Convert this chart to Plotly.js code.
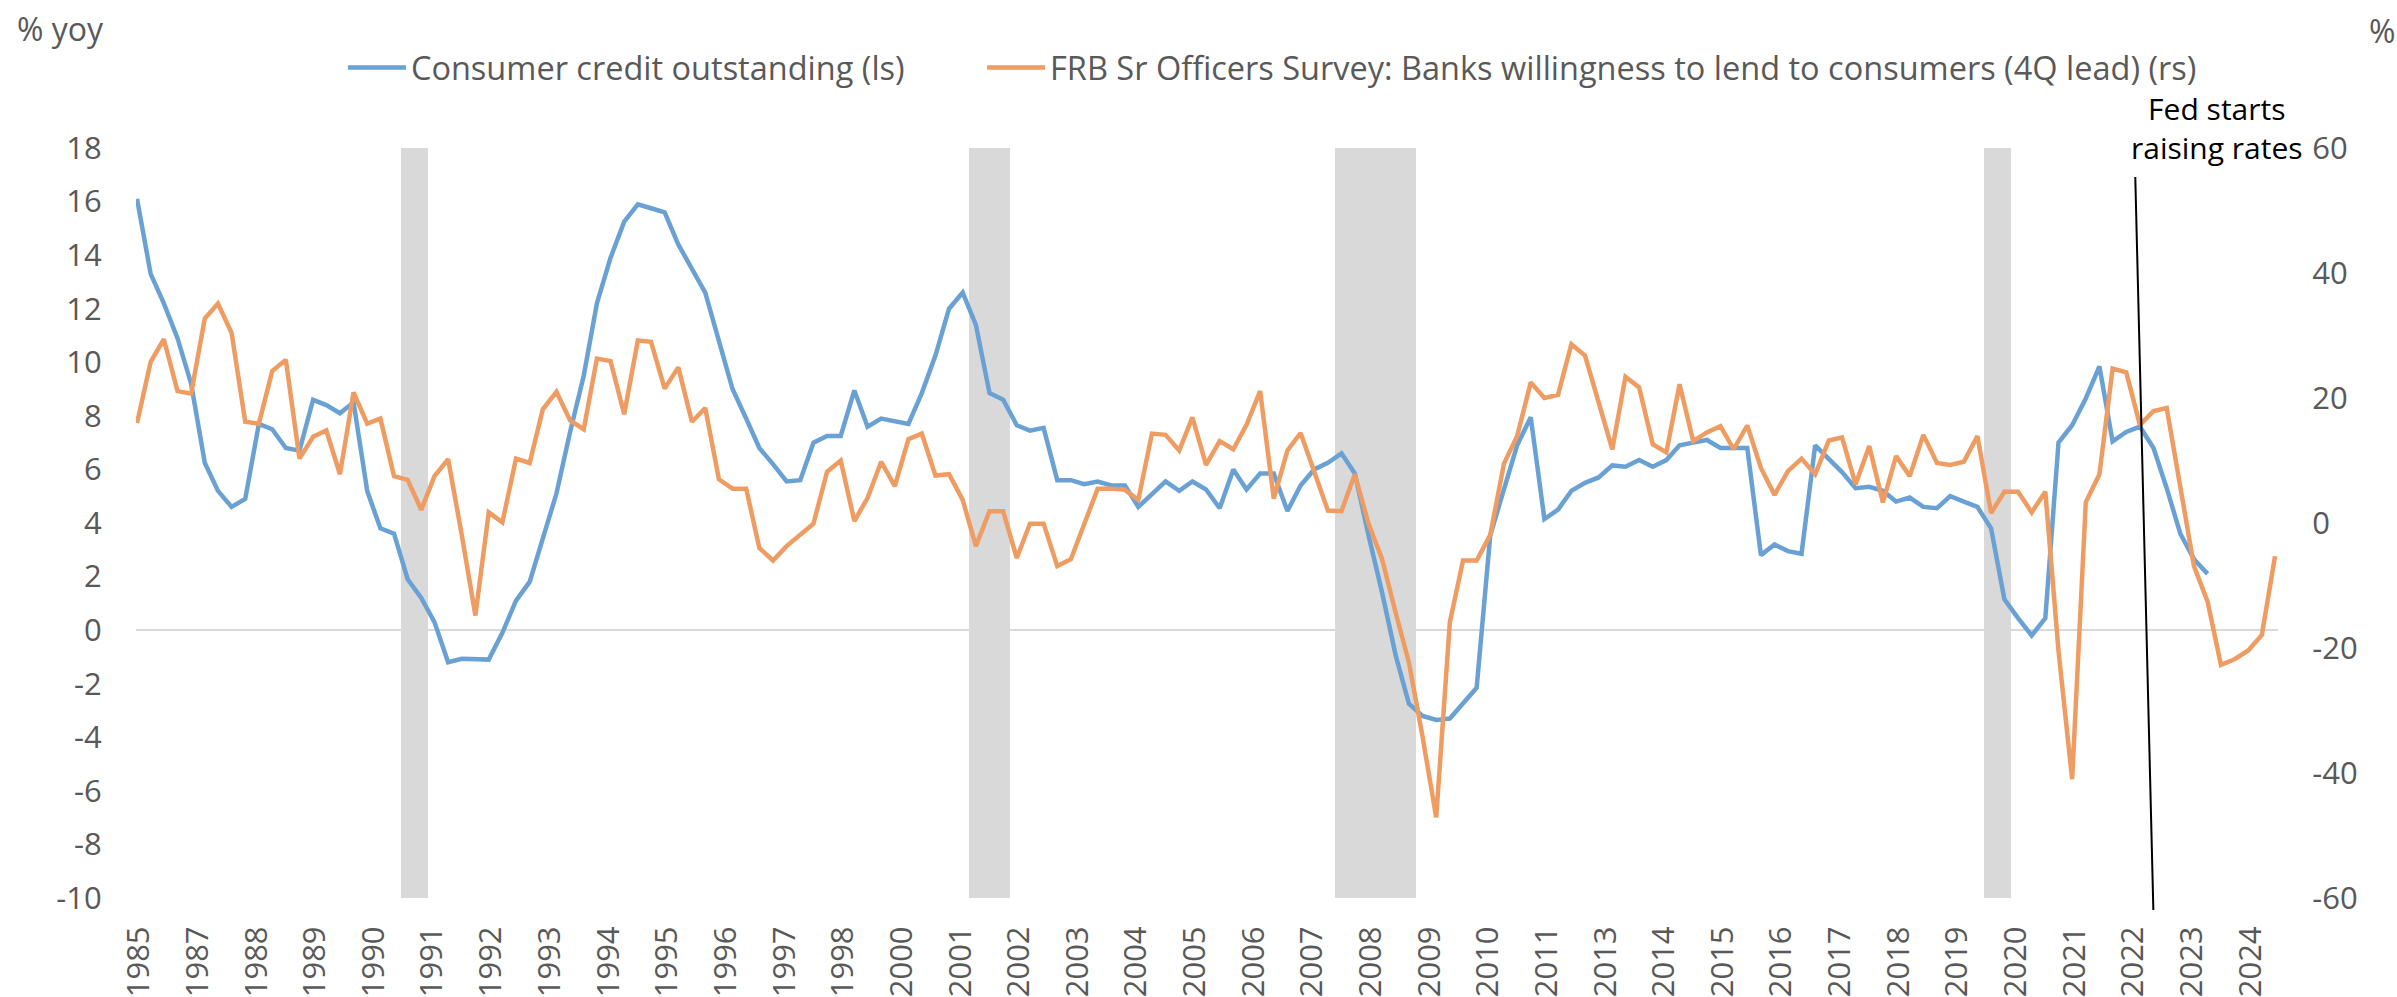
<!DOCTYPE html>
<html>
<head>
<meta charset="utf-8">
<script src="https://cdn.plot.ly/plotly-3.0.1.min.js"></script>
<style>
html,body{margin:0;padding:0;background:#ffffff;}
#chart{width:2397px;height:997px;}
</style>
</head>
<body>
<div id="chart"></div>
<script>
// ---- DATA ----
// Quarterly observations, first quarter = 1985 Q4
const firstYear = 1985;
const firstQuarter = 4;

// Consumer credit outstanding, % yoy (left scale)
const consumerCredit = [
 16.1, 13.3, 12.2, 10.9, 9.2, 6.25, 5.2, 4.6, 4.9, 7.7,
 7.5, 6.8, 6.7, 8.6, 8.4, 8.1, 8.5, 5.2, 3.8, 3.6,
 1.9, 1.2, 0.3, -1.2, -1.07, -1.1, -1.1, -0.1, 1.1, 1.8,
 3.4, 5.1, 7.4, 9.5, 12.2, 13.9, 15.25, 15.9, 15.75, 15.6,
 14.4, 13.45, 12.6, 10.8, 9.0, 7.9, 6.8, 6.2, 5.55, 5.6,
 7.0, 7.25, 7.25, 8.95, 7.6, 7.9, 7.8, 7.7, 8.85, 10.25,
 12.0, 12.6, 11.4, 8.85, 8.6, 7.65, 7.45, 7.55, 5.6, 5.6,
 5.45, 5.55, 5.4, 5.4, 4.6, 5.1, 5.55, 5.2, 5.55, 5.25,
 4.55, 6.0, 5.25, 5.85, 5.85, 4.45, 5.4, 6.0, 6.25, 6.6,
 5.85, 3.55, 1.4, -0.95, -2.75, -3.2, -3.35, -3.3, -2.75, -2.15,
 3.55, 5.3, 6.9, 7.95, 4.15, 4.5, 5.2, 5.5, 5.7, 6.15,
 6.1, 6.35, 6.1, 6.35, 6.9, 7.0, 7.1, 6.8, 6.8, 6.8,
 2.8, 3.2, 2.95, 2.85, 6.9, 6.4, 5.9, 5.3, 5.35, 5.2,
 4.8, 4.95, 4.6, 4.55, 5.0, 4.8, 4.6, 3.8, 1.15, 0.45,
 -0.2, 0.45, 7.0, 7.65, 8.65, 9.85, 7.05, 7.4, 7.6, 6.8,
 5.3, 3.6, 2.65, 2.1
];

// FRB Senior Loan Officers Survey, willingness to lend to consumers, 4Q lead (right scale)
const bankWillingness = [
 16.0, 25.8, 29.4, 21.1, 20.7, 32.7, 35.1, 30.4, 16.2, 15.9,
 24.3, 26.1, 10.3, 13.8, 14.8, 7.8, 20.9, 15.9, 16.7, 7.5,
 6.9, 2.1, 7.5, 10.2, -1.9, -14.8, 1.7, 0.1, 10.3, 9.6,
 18.2, 21.0, 16.4, 15.0, 26.3, 25.9, 17.4, 29.2, 29.0, 21.5,
 24.9, 16.2, 18.4, 7.0, 5.5, 5.5, -4.0, -6.0, -3.7, -1.9,
 -0.1, 8.2, 10.0, 0.3, 4.0, 9.8, 5.9, 13.4, 14.3, 7.6,
 7.8, 3.7, -3.7, 1.9, 1.9, -5.6, -0.1, -0.1, -6.9, -5.8,
 -0.1, 5.5, 5.5, 5.3, 3.7, 14.3, 14.1, 11.6, 16.9, 9.3,
 13.1, 11.8, 15.7, 21.1, 3.9, 11.6, 14.4, 8.2, 2.0, 1.9,
 7.8, -0.1, -5.8, -14.4, -22.3, -34.2, -47.1, -15.9, -6.0, -6.0,
 -1.9, 9.5, 13.9, 22.5, 20.0, 20.5, 28.6, 26.8, 19.0, 11.8,
 23.4, 21.7, 12.6, 11.3, 22.2, 13.1, 14.5, 15.5, 11.8, 15.6,
 8.8, 4.5, 8.3, 10.3, 7.8, 13.2, 13.7, 6.2, 12.3, 3.3,
 10.7, 7.5, 14.1, 9.6, 9.3, 9.8, 13.9, 1.6, 5.0, 5.0,
 1.7, 5.0, -20.5, -41.0, 3.3, 7.8, 24.7, 24.1, 15.7, 17.9,
 18.4, 5.3, -6.9, -12.6, -22.7, -21.8, -20.4, -17.9, -5.3
];

// NBER recession quarters (shaded)
const recessionQuarters = [
 '1990Q4','1991Q1',
 '2001Q2','2001Q3','2001Q4',
 '2008Q1','2008Q2','2008Q3','2008Q4','2009Q1','2009Q2',
 '2020Q1','2020Q2'
];

// x-axis tick labels (one every 13 months starting Dec 1985)
const xTickYears = [
 '1985','1987','1988','1989','1990','1991','1992','1993','1994','1995',
 '1996','1997','1998','2000','2001','2002','2003','2004','2005','2006',
 '2007','2008','2009','2010','2011','2013','2014','2015','2016','2017',
 '2018','2019','2020','2021','2022','2023','2024'
];
const leftTickValues = [-10,-8,-6,-4,-2,0,2,4,6,8,10,12,14,16,18];
const leftTickLabels = ['-10','-8','-6','-4','-2','0','2','4','6','8','10','12','14','16','18'];
const rightTickValues = [-60,-40,-20,0,20,40,60];
const rightTickLabels = ['-60','-40','-20','0','20','40','60'];

const seriesNames = [
 'Consumer credit outstanding (ls)',
 'FRB Sr Officers Survey: Banks willingness to lend to consumers (4Q lead) (rs)'
];
const fedLabel = 'Fed starts<br>raising rates';

// ---- HELPERS ----
function quarterMid(y, q) {
  const m = (q - 1) * 3 + 2;
  return y + '-' + String(m).padStart(2, '0') + '-15';
}
const xDates = [];
{
  let y = firstYear, q = firstQuarter;
  for (let k = 0; k < bankWillingness.length; k++) {
    xDates.push(quarterMid(y, q));
    q++; if (q > 4) { q = 1; y++; }
  }
}
const recessionX = recessionQuarters.map(s => quarterMid(+s.slice(0,4), +s.slice(5)));
const recessionY = recessionQuarters.map(() => 1);

const xTickVals = xTickYears.map((_, k) => {
  const mi = 1985 * 12 + 11 + 13 * k;
  const yy = Math.floor(mi / 12), mm = mi % 12 + 1;
  return yy + '-' + String(mm).padStart(2, '0') + '-01';
});

const gray = '#595959';
const FONT = 'Open Sans, sans-serif';
const QUARTER_MS = 92.2 * 86400000;

const traces = [
  {
    type: 'bar', x: recessionX, y: recessionY, xaxis: 'x', yaxis: 'y',
    width: QUARTER_MS, marker: { color: '#D9D9D9', line: { width: 0 } },
    showlegend: false, hoverinfo: 'skip'
  },
  {
    type: 'scatter', mode: 'lines', name: seriesNames[0],
    x: xDates.slice(0, consumerCredit.length), y: consumerCredit,
    xaxis: 'x', yaxis: 'y2', legend: 'legend',
    line: { color: '#6AA1D4', width: 4.5, shape: 'linear' }
  },
  {
    type: 'scatter', mode: 'lines', name: seriesNames[1],
    x: xDates, y: bankWillingness,
    xaxis: 'x', yaxis: 'y3', legend: 'legend2',
    line: { color: '#EE9C62', width: 4.5, shape: 'linear' }
  }
];

const legendCommon = {
  orientation: 'h', xanchor: 'left', y: 1.1067, yanchor: 'middle',
  font: { family: FONT, size: 32.5, color: gray },
  bgcolor: 'rgba(0,0,0,0)', borderwidth: 0, itemwidth: 58
};

const layout = {
  width: 2397, height: 997,
  margin: { l: 136, r: 119, t: 148, b: 99, pad: 0 },
  paper_bgcolor: '#ffffff', plot_bgcolor: '#ffffff',
  font: { family: FONT, size: 31, color: gray },
  bargap: 0,
  showlegend: true,
  legend: Object.assign({}, legendCommon, { x: 0.0966 }),
  legend2: Object.assign({}, legendCommon, { x: 0.3950 }),
  xaxis: {
    type: 'date', range: ['1985-11-08', '2025-06-04'],
    tickmode: 'array', tickvals: xTickVals, ticktext: xTickYears,
    tickangle: -90, ticks: 'outside', ticklen: 15, tickcolor: 'rgba(0,0,0,0)',
    showgrid: false, zeroline: false, showline: false,
    tickfont: { family: FONT, size: 31, color: gray }, fixedrange: true
  },
  yaxis: { range: [0, 1], visible: false, fixedrange: true },
  yaxis2: {
    overlaying: 'y', side: 'left', range: [-10, 18],
    tickmode: 'array', tickvals: leftTickValues, ticktext: leftTickLabels,
    showgrid: false, zeroline: true, zerolinecolor: '#D9D9D9', zerolinewidth: 2,
    showline: false, ticks: 'outside', ticklen: 27, tickcolor: 'rgba(0,0,0,0)',
    tickfont: { family: FONT, size: 31, color: gray }, fixedrange: true
  },
  yaxis3: {
    overlaying: 'y', side: 'right', range: [-60, 60],
    tickmode: 'array', tickvals: rightTickValues, ticktext: rightTickLabels,
    showgrid: false, zeroline: false, showline: false,
    ticks: 'outside', ticklen: 27, tickcolor: 'rgba(0,0,0,0)',
    tickfont: { family: FONT, size: 31, color: gray }, fixedrange: true
  },
  shapes: [
    { type: 'line', xref: 'x', yref: 'paper', x0: '2022-10-15', x1: '2023-02-14',
      y0: 0.9613, y1: -0.016, line: { color: '#000000', width: 2 }, layer: 'above' }
  ],
  annotations: [
    { xref: 'paper', yref: 'paper', x: -0.0565, y: 1.16, xanchor: 'left', yanchor: 'middle',
      text: '% yoy', showarrow: false, font: { family: FONT, size: 32, color: gray } },
    { xref: 'paper', yref: 'paper', x: 1.0416, y: 1.1573, xanchor: 'left', yanchor: 'middle',
      text: '%', showarrow: false, font: { family: FONT, size: 32, color: gray } },
    { xref: 'paper', yref: 'paper', x: 0.9715, y: 1.0267, xanchor: 'center', yanchor: 'middle',
      text: fedLabel, showarrow: false, align: 'center',
      font: { family: FONT, size: 30, color: '#000000' } }
  ]
};

Plotly.newPlot('chart', traces, layout, { displayModeBar: false, staticPlot: true });
</script>
</body>
</html>
